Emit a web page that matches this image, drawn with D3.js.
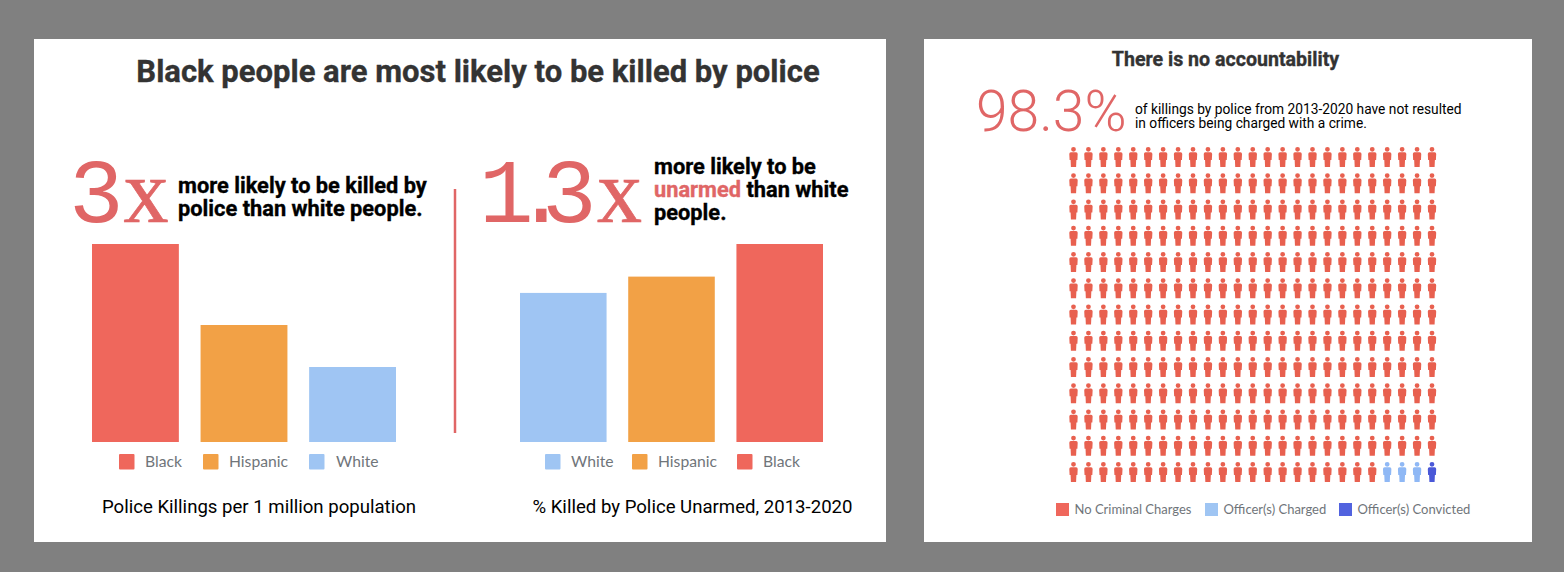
<!DOCTYPE html>
<html>
<head>
<meta charset="utf-8">
<script src="https://cdn.jsdelivr.net/npm/d3@7"></script>
<style>
  html, body { margin: 0; padding: 0; background: #808080; }
  svg { display: block; }
  text { font-family: Roboto, sans-serif; }
</style>
</head>
<body>
<svg width="1564" height="572"></svg>
<script>
// values
const killedCategories = ["Black", "Hispanic", "White"]
const killedValues = [6.6, 3.9, 2.5]
const unarmedCategories = ["White", "Hispanic", "Black"]
const unarmedValues = [12.8, 14.2, 17.0]
const outcomeLabels = ["No Criminal Charges", "Officer(s) Charged", "Officer(s) Convicted"]
const outcomeCounts = [321, 3, 1]
const gridColumns = 25
const gridRows = 13

const red = "#ef675c", orange = "#f2a146", blue = "#9fc5f3", navy = "#5263df", accent = "#e06666"
const raceColor = d3.scaleOrdinal(["Black", "Hispanic", "White"], [red, orange, blue])
const outcomeColor = d3.scaleOrdinal(outcomeLabels, ["#e8604f", "#8fb8f5", "#4a58d8"])

const svg = d3.select("svg")

svg.append("rect").attr("x", 34).attr("y", 39).attr("width", 852).attr("height", 503).attr("fill", "#fff")
svg.append("rect").attr("x", 924).attr("y", 39).attr("width", 608).attr("height", 503).attr("fill", "#fff")

function label(x, y, str, size, weight, fill, anchor, family) {
  const t = svg.append("text")
      .attr("x", x)
      .attr("y", y)
      .attr("font-size", size)
      .attr("font-weight", weight)
      .attr("fill", fill)
      .attr("text-anchor", anchor || "start")
      .style("font-family", family || "Roboto, sans-serif")
      .text(str)
  // the bold lines sit a little heavier in the original
  if (weight === 700) t.attr("stroke", fill).attr("stroke-width", 0.35)
  return t
}

// big multiplier: digits in the mono face, x from the serif since its slabs are closer
function multiplier(digits, xs, timesX) {
  label(xs, 222, digits, 91, 400, accent, "start", "'Liberation Mono', monospace")
  label(timesX, 222, "x", 90, 400, accent, "start", "'Liberation Serif', serif")
    .attr("stroke", accent)
    .attr("stroke-width", 0.7)
}

// bar panel, one for each side of the divider
function bars(categories, values, x0, x1, legendX, legendTextX) {
  const x = d3.scaleBand().domain(categories).range([x0, x1]).paddingInner(0.2)
  const y = d3.scaleLinear().domain([0, d3.max(values)]).range([442, 244])

  svg.append("g")
    .selectAll("rect")
    .data(categories)
    .enter().append("rect")
      .attr("x", d => x(d))
      .attr("y", (d, i) => y(values[i]))
      .attr("width", x.bandwidth())
      .attr("height", (d, i) => y(0) - y(values[i]))
      .attr("fill", d => raceColor(d))

  const legend = svg.append("g")
    .selectAll("g")
    .data(categories)
    .enter().append("g")

  legend.append("rect")
      .attr("x", (d, i) => legendX[i])
      .attr("y", 454)
      .attr("width", 15.5)
      .attr("height", 15.5)
      .attr("rx", 1)
      .attr("fill", d => raceColor(d))

  legend.append("text")
      .attr("x", (d, i) => legendTextX[i])
      .attr("y", 467)
      .attr("font-size", 15.7)
      .attr("fill", "#70757a")
      .style("font-family", "Lato, sans-serif")
      .text(d => d)
}

bars(killedCategories, killedValues, 92, 396, [119, 203, 309], [145, 229, 336])
bars(unarmedCategories, unarmedValues, 520, 823, [545, 632, 737], [571, 658, 763])

label(478, 82, "Black people are most likely to be killed by police", 31, 700, "#333", "middle")

multiplier("3", "69", 123.6)
label(178, 193, "more likely to be killed by", 21.8, 700, "#000")
label(178, 216, "police than white people.", 21.8, 700, "#000")

multiplier("1.3", "479 514 542", 597)
label(654, 174, "more likely to be", 21.8, 700, "#000")
const line2 = label(654, 197, "", 21.8, 700, "#000")
line2.append("tspan").attr("fill", accent).attr("stroke", accent).text("unarmed")
line2.append("tspan").text(" than white")
label(654, 220, "people.", 21.8, 700, "#000")

svg.append("line")
    .attr("x1", 455).attr("x2", 455)
    .attr("y1", 189).attr("y2", 433)
    .attr("stroke", accent).attr("stroke-width", 2.5)

label(259, 513, "Police Killings per 1 million population", 18.6, 400, "#000", "middle")
label(692.5, 513, "% Killed by Police Unarmed, 2013-2020", 18.6, 400, "#000", "middle")

// right panel
label(1225.5, 66, "There is no accountability", 19.6, 700, "#333", "middle")
label(976, 131, "98.3%", 57, 300, accent)
label(1135, 114, "of killings by police from 2013-2020 have not resulted", 13.75, 400, "#000")
label(1135, 128, "in officers being charged with a crime.", 13.75, 400, "#000")

// single person glyph, origin at the centre of the head top
function person() {
  const p = d3.path()
  p.arc(0, 2.3, 2.4, 0, 2 * Math.PI)
  p.moveTo(-2.6, 5.2)
  p.lineTo(2.6, 5.2)
  p.quadraticCurveTo(4.2, 5.2, 4.2, 7)
  p.lineTo(3.9, 13)
  p.lineTo(2.9, 13)
  p.lineTo(2.6, 20)
  p.lineTo(-2.6, 20)
  p.lineTo(-2.9, 13)
  p.lineTo(-3.9, 13)
  p.lineTo(-4.2, 7)
  p.quadraticCurveTo(-4.2, 5.2, -2.6, 5.2)
  p.closePath()
  return p.toString()
}

const outcomes = outcomeLabels.flatMap((d, i) => d3.range(outcomeCounts[i]).map(() => d))
const gx = d3.scalePoint().domain(d3.range(gridColumns)).range([1073.5, 1432])
const gy = d3.scalePoint().domain(d3.range(gridRows)).range([147, 462])

svg.append("g")
  .selectAll("path")
  .data(outcomes)
  .enter().append("path")
    .attr("d", person())
    .attr("transform", (d, i) => `translate(${gx(i % gridColumns)},${gy(Math.floor(i / gridColumns))})`)
    .attr("fill", d => outcomeColor(d))

const outcomeX = [1056, 1205, 1339]
const outcomeSwatch = [red, blue, navy]
const outcomeLegend = svg.append("g")
  .selectAll("g")
  .data(outcomeLabels)
  .enter().append("g")

outcomeLegend.append("rect")
    .attr("x", (d, i) => outcomeX[i])
    .attr("y", 503)
    .attr("width", 13)
    .attr("height", 13)
    .attr("fill", (d, i) => outcomeSwatch[i])

outcomeLegend.append("text")
    .attr("x", (d, i) => outcomeX[i] + 18.5)
    .attr("y", 514)
    .attr("font-size", 13)
    .attr("fill", "#70757a")
    .style("font-family", "Lato, sans-serif")
    .text(d => d)
</script>
</body>
</html>
